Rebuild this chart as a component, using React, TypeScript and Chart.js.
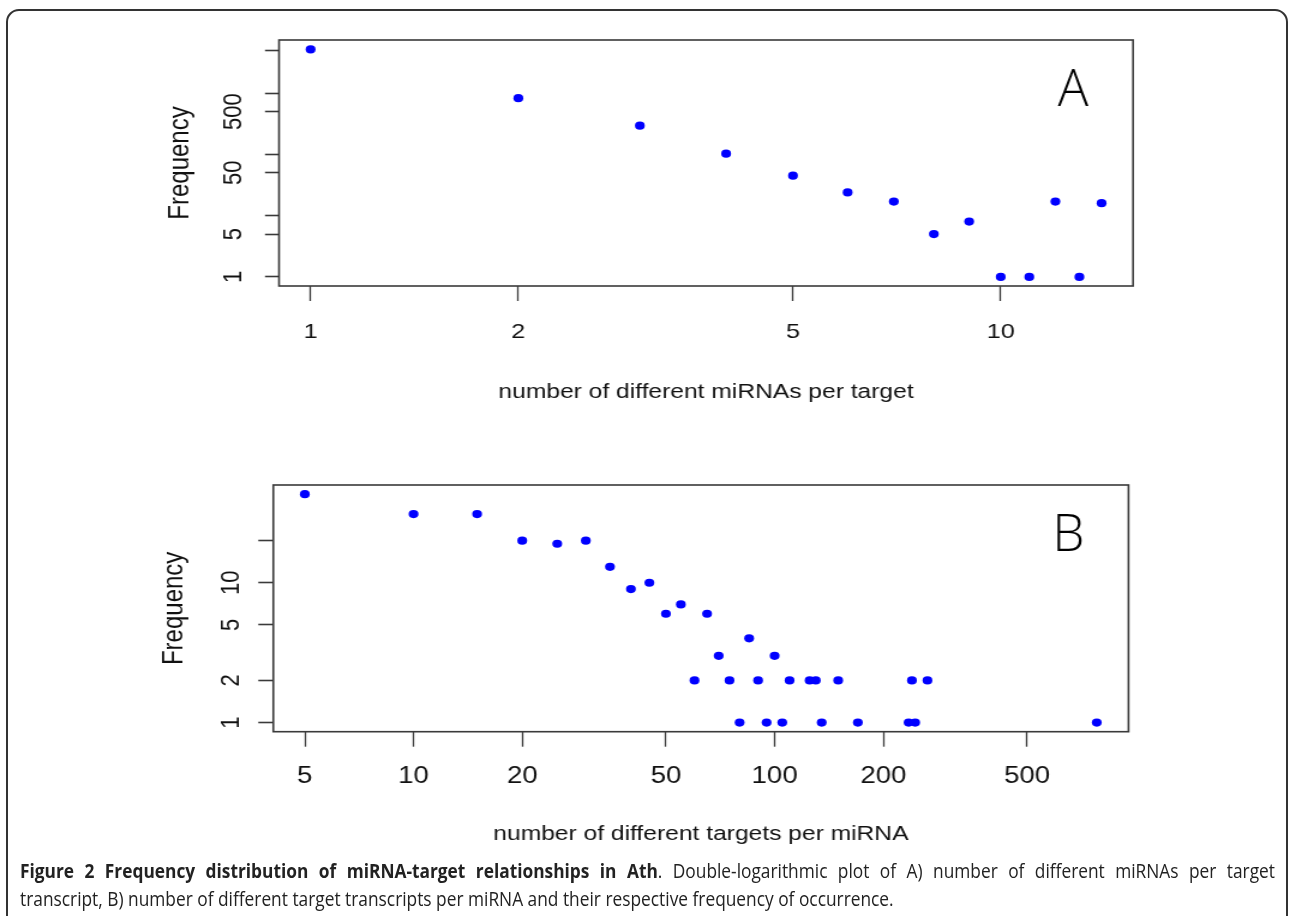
import React, { useEffect, useRef } from 'react';
import { Chart, registerables } from 'chart.js';

Chart.register(...registerables);

// ---------- data ----------
const xA = [1, 2, 3, 4, 5, 6, 7, 8, 9, 10, 11, 12, 13, 14];
const yA = [5200, 830, 295, 103, 45, 24, 17, 5, 8, 1, 1, 17, 1, 16];

const xB = [5, 10, 15, 20, 25, 30, 35, 40, 45, 50, 55, 60, 65, 70, 75, 80, 85, 90, 95, 100, 105, 110, 125, 130, 135, 150, 170, 235, 240, 245, 265, 780];
const yB = [43, 31, 31, 20, 19, 20, 13, 9, 10, 6, 7, 2, 6, 3, 2, 1, 4, 2, 1, 3, 1, 2, 2, 2, 1, 2, 1, 1, 2, 1, 2, 1];

const xTicksA = [1, 2, 5, 10];
const yTicksA = [1, 5, 10, 50, 100, 500, 1000, 5000];
const yLabelsA = [1, 5, 50, 500];
const xTicksB = [5, 10, 20, 50, 100, 200, 500];
const yTicksB = [1, 2, 5, 10, 20];
const yLabelsB = [1, 2, 5, 10];

const xRangeA = [0.9, 15.55];
const yRangeA = [0.71, 7400];
const xRangeB = [4.09, 955];
const yRangeB = [0.86, 50];

const xTitleA = 'number of different miRNAs per target';
const xTitleB = 'number of different targets per miRNA';
const yTitle = 'Frequency';

// ---------- layout ----------
const S = 1.2; // horizontal stretch of the plot images
const NW = 1074; // native canvas width
const AXIS = '#3a3a3a';
const TXT = '#111';
const FONT = '"Liberation Sans", Arial, sans-serif';

type Panel = {
  xs: number[]; ys: number[];
  xTicks: number[]; yTicks: number[]; yLabels: number[];
  xRange: number[]; yRange: number[];
  xTitle: string; tag: string;
  height: number; padTop: number; padRight: number;
  yAxisW: number; xAxisH: number;
  xTickLen: number; yTickLen: number;
  xTickPad: number; yTickPad: number;
  xTickSize: number; yTickSize: number;
  xTitlePad: number; yTitlePad: number;
};

const panelA: Panel = {
  xs: xA, ys: yA, xTicks: xTicksA, yTicks: yTicksA, yLabels: yLabelsA,
  xRange: xRangeA, yRange: yRangeA, xTitle: xTitleA, tag: 'A',
  height: 440, padTop: 40, padRight: NW - 944.2,
  yAxisW: 232.5, xAxisH: 154,
  xTickLen: 15, yTickLen: 11.7,
  xTickPad: 18.4, yTickPad: 7.4,
  xTickSize: 21, yTickSize: 22,
  xTitlePad: 35.7, yTitlePad: 136.4,
};

const panelB: Panel = {
  xs: xB, ys: yB, xTicks: xTicksB, yTicks: yTicksB, yLabels: yLabelsB,
  xRange: xRangeB, yRange: yRangeB, xTitle: xTitleB, tag: 'B',
  height: 420, padTop: 45, padRight: NW - 940.4,
  yAxisW: 227.75, xAxisH: 128.3,
  xTickLen: 15, yTickLen: 12.5,
  xTickPad: 16, yTickPad: 10.5,
  xTickSize: 23, yTickSize: 22,
  xTitlePad: 13.7, yTitlePad: 131,
};

function makeChart(canvas: HTMLCanvasElement, p: Panel) {
  const boxPlugin = {
    id: 'rbox',
    afterDraw(chart: any) {
      const { ctx, chartArea } = chart;
      const { left, top, right, bottom } = chartArea;
      ctx.save();
      ctx.strokeStyle = AXIS;
      ctx.lineWidth = 1.6;
      ctx.strokeRect(left, top, right - left, bottom - top);
      ctx.translate(right - 50, top + 51);
      ctx.scale(1 / S, 1);
      ctx.font = '300 51px "Open Sans", Lato, sans-serif';
      ctx.fillStyle = '#000';
      ctx.textAlign = 'center';
      ctx.textBaseline = 'middle';
      ctx.fillText(p.tag, 0, 0);
      ctx.restore();
    },
  };

  return new Chart(canvas, {
    type: 'scatter',
    data: {
      datasets: [
        {
          data: p.xs.map((x, i) => ({ x, y: p.ys[i] })),
          backgroundColor: '#0000ff',
          borderWidth: 0,
          pointRadius: 4.1,
          pointHoverRadius: 4.1,
        },
      ],
    },
    options: {
      responsive: false,
      animation: false,
      events: [],
      layout: { padding: { left: 0, top: p.padTop, right: p.padRight, bottom: 0 } },
      plugins: { legend: { display: false }, tooltip: { enabled: false }, title: { display: false } },
      scales: {
        x: {
          type: 'logarithmic',
          position: 'bottom',
          bounds: 'data',
          min: p.xRange[0],
          max: p.xRange[1],
          afterBuildTicks: (s: any) => { s.ticks = p.xTicks.map((v) => ({ value: v })); },
          afterFit: (s: any) => { s.height = p.xAxisH; },
          ticks: {
            autoSkip: false, minRotation: 0, maxRotation: 0,
            padding: p.xTickPad, color: TXT,
            font: { family: FONT, size: p.xTickSize },
            callback: (v: any) => String(v),
          },
          grid: { display: true, drawOnChartArea: false, drawTicks: true, tickLength: p.xTickLen, tickWidth: 1.3, tickColor: AXIS, color: AXIS },
          border: { display: false },
          title: { display: true, text: p.xTitle, color: TXT, font: { family: FONT, size: 20.5 }, padding: { top: 0, bottom: p.xTitlePad } },
        },
        y: {
          type: 'logarithmic',
          position: 'left',
          bounds: 'data',
          min: p.yRange[0],
          max: p.yRange[1],
          afterBuildTicks: (s: any) => { s.ticks = p.yTicks.map((v) => ({ value: v })); },
          afterFit: (s: any) => { s.width = p.yAxisW; },
          ticks: {
            autoSkip: false, minRotation: 90, maxRotation: 90, crossAlign: 'center',
            padding: p.yTickPad, color: TXT,
            font: { family: FONT, size: p.yTickSize },
            callback: (v: any) => (p.yLabels.includes(Number(v)) ? String(v) : ''),
          },
          grid: { display: true, drawOnChartArea: false, drawTicks: true, tickLength: p.yTickLen, tickWidth: 1.6, tickColor: AXIS, color: AXIS },
          border: { display: false },
          title: { display: true, text: yTitle, color: TXT, font: { family: FONT, size: 24 }, padding: { top: p.yTitlePad, bottom: 0 } },
        },
      },
    } as any,
    plugins: [boxPlugin],
  });
}

export default function App() {
  const refA = useRef<HTMLCanvasElement>(null);
  const refB = useRef<HTMLCanvasElement>(null);

  useEffect(() => {
    const a = makeChart(refA.current!, panelA);
    const b = makeChart(refB.current!, panelB);
    return () => { a.destroy(); b.destroy(); };
  }, []);

  const K = 0.866;
  const capW = 1255;

  return (
    <div style={{ position: 'absolute', left: 0, top: 0, width: 1289, height: 916, overflow: 'hidden', background: '#fff' }}>
      <div style={{ position: 'absolute', left: 6, top: 9, width: 1282, height: 960, border: '2px solid #333', borderRadius: 13, boxSizing: 'border-box' }} />
      <div style={{ position: 'absolute', left: 0, top: 0, width: NW, height: panelA.height, transform: `scaleX(${S})`, transformOrigin: '0 0' }}>
        <canvas ref={refA} width={NW} height={panelA.height} />
      </div>
      <div style={{ position: 'absolute', left: 0, top: 440, width: NW, height: panelB.height, transform: `scaleX(${S})`, transformOrigin: '0 0' }}>
        <canvas ref={refB} width={NW} height={panelB.height} />
      </div>
      <div style={{ position: 'absolute', left: 20, top: 857, width: capW / K, transform: `scaleX(${K})`, transformOrigin: '0 0', fontFamily: '"Open Sans", sans-serif', fontSize: 20, lineHeight: '28px', color: '#222' }}>
        <div style={{ whiteSpace: 'nowrap', textAlign: 'justify', textAlignLast: 'justify' }}>
          <b>Figure 2 Frequency distribution of miRNA-target relationships in Ath</b>. Double-logarithmic plot of A) number of different miRNAs per target
        </div>
        <div style={{ whiteSpace: 'nowrap' }}>
          transcript, B) number of different target transcripts per miRNA and their respective frequency of occurrence.
        </div>
      </div>
    </div>
  );
}
